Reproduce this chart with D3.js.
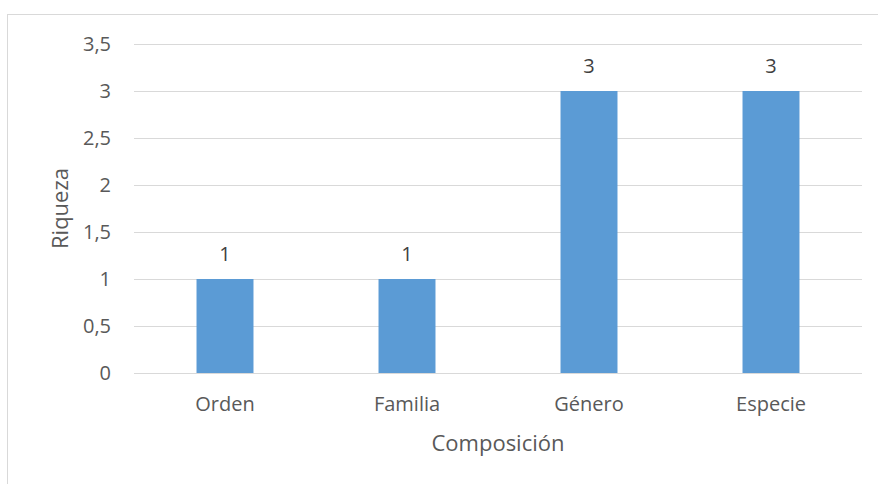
<!DOCTYPE html>
<html><head><meta charset="utf-8">
<script src="https://cdn.jsdelivr.net/npm/d3@7"></script>
<style>body{margin:0;background:#fff;} svg{display:block;}</style>
</head><body>
<svg id="c" width="878" height="484"></svg>
<script>
const categories = ["Orden", "Familia", "Género", "Especie"];
const values = [1, 1, 3, 3];
const yTicks = [0, 0.5, 1, 1.5, 2, 2.5, 3, 3.5];
const xTitle = "Composición";
const yTitle = "Riqueza";

const svg = d3.select("#c");
const font = "'Open Sans', sans-serif";
const textColor = "#595959";
const m = {left: 134, right: 878 - 862, top: 44, bottom: 484 - 373};
const W = 878, H = 484;

svg.append("rect").attr("x", 7.5).attr("y", 14.5).attr("width", 900).attr("height", 500)
  .attr("fill", "#fff").attr("stroke", "#D9D9D9").attr("stroke-width", 1);

const x = d3.scaleBand().domain(categories).range([m.left, W - m.right]).paddingInner(0.687).paddingOuter(0.3435);
const y = d3.scaleLinear().domain([0, 3.5]).range([H - m.bottom, m.top]);

// gridlines
svg.append("g").selectAll("line").data(yTicks).join("line")
  .attr("x1", m.left).attr("x2", W - m.right)
  .attr("y1", d => Math.round(y(d)) + 0.5).attr("y2", d => Math.round(y(d)) + 0.5)
  .attr("stroke", "#D9D9D9").attr("stroke-width", 1);

// y axis labels
const yAxis = d3.axisLeft(y).tickValues(yTicks).tickSize(0).tickPadding(0)
  .tickFormat(d => String(d).replace(".", ","));
const gy = svg.append("g").attr("transform", `translate(111,0)`).call(yAxis);
gy.select(".domain").remove();
gy.selectAll("text").attr("font-family", font).attr("font-size", 20).attr("fill", textColor);

// bars
svg.append("g").selectAll("rect").data(values).join("rect")
  .attr("x", (d, i) => x(categories[i])).attr("width", x.bandwidth())
  .attr("y", d => y(d)).attr("height", d => y(0) - y(d))
  .attr("fill", "#5B9BD5");

// data labels
svg.append("g").selectAll("text").data(values).join("text")
  .attr("x", (d, i) => x(categories[i]) + x.bandwidth() / 2)
  .attr("y", d => y(d) - 18)
  .attr("text-anchor", "middle").attr("font-family", font).attr("font-size", 20).attr("fill", "#404040")
  .text(d => d);

// x axis
const xAxis = d3.axisBottom(x).tickSize(0).tickPadding(0);
const gx = svg.append("g").attr("transform", `translate(0,${y(0)})`).call(xAxis);
gx.select(".domain").remove();
gx.selectAll("text").attr("font-family", font).attr("font-size", 20).attr("fill", textColor)
  .attr("dy", null).attr("y", 38);

// axis titles
svg.append("text").attr("x", (m.left + W - m.right) / 2).attr("y", 451)
  .attr("text-anchor", "middle").attr("font-family", font).attr("font-size", 22).attr("fill", textColor)
  .text(xTitle);
svg.append("text").attr("transform", `translate(68,${(y(0) + y(3.5)) / 2}) rotate(-90)`)
  .attr("text-anchor", "middle").attr("font-family", font).attr("font-size", 22).attr("fill", textColor)
  .text(yTitle);
</script>
</body></html>
